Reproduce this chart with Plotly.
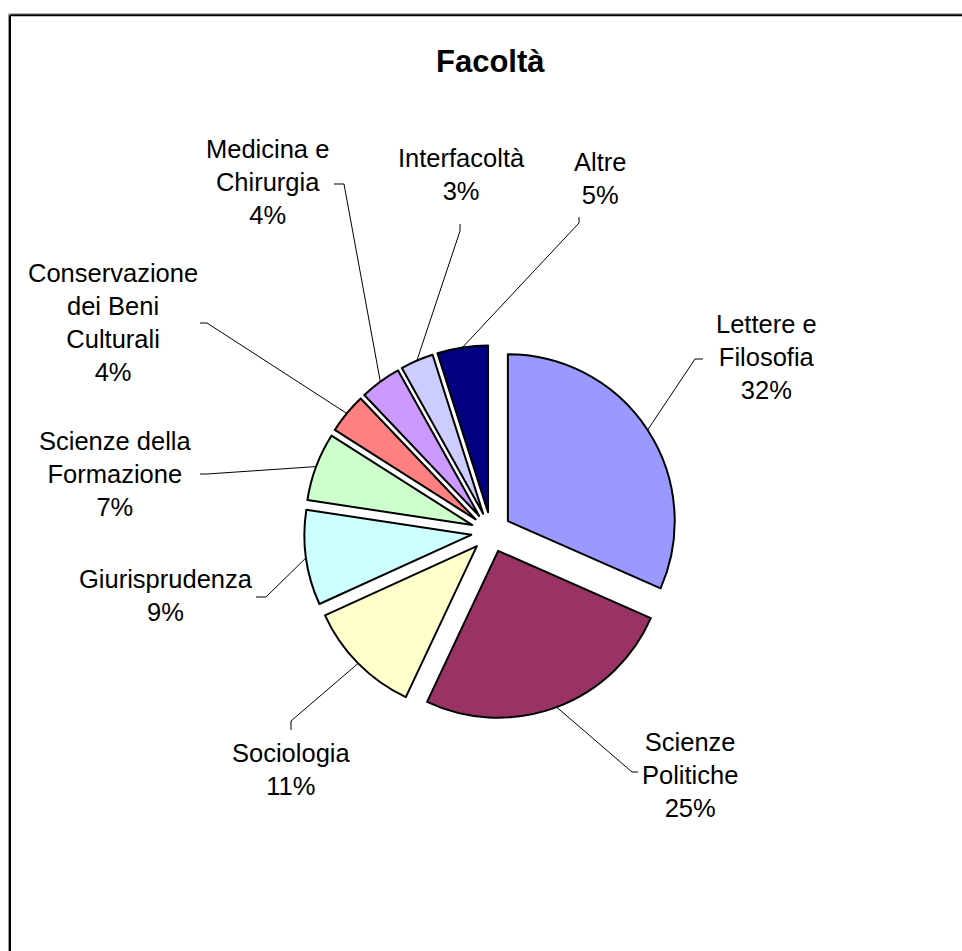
import math
import plotly.graph_objects as go

# ---------------- data ----------------
categories = ["Lettere e Filosofia", "Scienze Politiche", "Sociologia", "Giurisprudenza",
              "Scienze della Formazione", "Conservazione dei Beni Culturali",
              "Medicina e Chirurgia", "Interfacoltà", "Altre"]
label_lines = ["Lettere e<br>Filosofia", "Scienze<br>Politiche", "Sociologia", "Giurisprudenza",
               "Scienze della<br>Formazione", "Conservazione<br>dei Beni<br>Culturali",
               "Medicina e<br>Chirurgia", "Interfacoltà", "Altre"]
shares = [31.6, 25.4, 11.2, 9.2, 6.6, 3.9, 4.0, 3.2, 4.9]
colors = ["#9999FF", "#993366", "#FFFFCC", "#CCFFFF", "#CCFFCC",
          "#FF8080", "#CC99FF", "#CCCCFF", "#000080"]
title_text = "Facoltà"

# ---------------- layout constants (pixels) ----------------
W, H = 962, 951
PULL = 0.12
dom_x = [0.316, 0.705]
dom_y = [0.244, 0.637]
FONT = "Liberation Sans, Arial, sans-serif"

label_pos = [(766, 357), (690, 775), (291, 769), (166, 595), (115, 474),
             (113, 322), (267, 182), (461, 175), (600, 179)]
elbow_pos = [(695, 359), (632, 772), (291, 721), (266, 597), (207, 474),
             (207, 323), (344, 184), (460, 231), (579, 223)]
tick_end = [(703, 359), (638, 772), (291, 730), (256, 597), (200, 474),
            (200, 323), (334, 184), (460, 224), (579, 217)]


def px(x, y):
    return x / W, 1 - y / H


# pie geometry exactly as plotly computes it
box_w = W * (dom_x[1] - dom_x[0])
box_h = H * (dom_y[1] - dom_y[0])
r = min(box_w, box_h) / (2 + 2 * PULL)
cx = W * (dom_x[0] + dom_x[1]) / 2
cy = H * (2 - dom_y[0] - dom_y[1]) / 2

total = sum(shares)

fig = go.Figure()
fig.add_trace(go.Pie(
    values=shares, labels=categories, sort=False, direction="clockwise",
    rotation=0, pull=PULL, textinfo="none", hoverinfo="label+percent",
    marker=dict(colors=colors, line=dict(color="black", width=2)),
    domain=dict(x=dom_x, y=dom_y), showlegend=False,
))

annotations = []
shapes = []
cum = 0.0
for i, v in enumerate(shares):
    mid = (cum + v / 2) / total * 2 * math.pi
    cum += v
    ax = cx + r * (1 + PULL) * math.sin(mid)
    ay = cy - r * (1 + PULL) * math.cos(mid)
    pct = round(v / total * 100)
    lx, ly = px(*label_pos[i])
    annotations.append(dict(
        x=lx, y=ly, xref="paper", yref="paper", showarrow=False,
        xanchor="center", yanchor="middle", align="center",
        text=f"{label_lines[i]}<br>{pct}%",
        font=dict(family=FONT, size=25.5, color="black"),
    ))
    p0 = px(ax, ay)
    p1 = px(*elbow_pos[i])
    p2 = px(*tick_end[i])
    shapes.append(dict(
        type="path", xref="paper", yref="paper",
        path=f"M {p0[0]},{p0[1]} L {p1[0]},{p1[1]} L {p2[0]},{p2[1]}",
        line=dict(color="black", width=1),
    ))

tx, ty = px(491, 61.5)
annotations.append(dict(
    x=tx, y=ty, xref="paper", yref="paper", showarrow=False,
    xanchor="center", yanchor="middle",
    text=f"<b>{title_text}</b>",
    font=dict(family=FONT, size=31, color="black"),
))

# chart-area frame (left and top edges visible)
for (a, b, c, d, col, wd) in [
    (8.5, 13.8, 8.5, 960, "#999999", 1),
    (8.5, 13.8, 970, 13.8, "#999999", 1),
    (10, 15.3, 10, 960, "black", 2),
    (10, 15.3, 970, 15.3, "black", 2),
]:
    p, q = px(a, b), px(c, d)
    shapes.append(dict(type="line", xref="paper", yref="paper",
                       x0=p[0], y0=p[1], x1=q[0], y1=q[1],
                       line=dict(color=col, width=wd)))

fig.update_layout(
    width=W, height=H, margin=dict(l=0, r=0, t=0, b=0),
    paper_bgcolor="white", plot_bgcolor="white", showlegend=False,
    annotations=annotations, shapes=shapes,
)

fig.write_html("out.html", config={"displayModeBar": False},
               post_script="document.body.style.margin='0px';")
